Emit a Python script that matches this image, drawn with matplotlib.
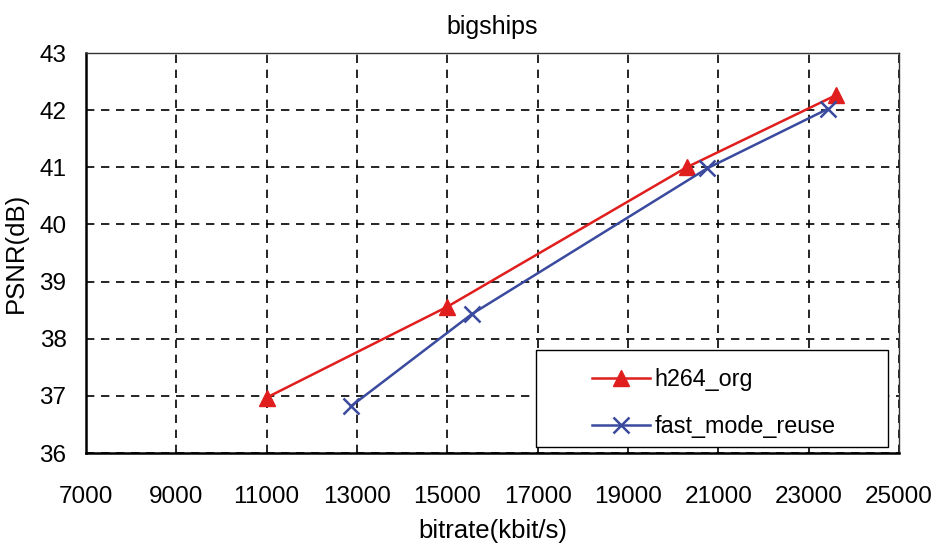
import matplotlib
matplotlib.use("Agg")
import matplotlib.pyplot as plt
from matplotlib.patches import Rectangle

# Data
h264_rate = [11000, 15000, 20300, 23600]
h264_psnr = [36.97, 38.56, 41.0, 42.26]
fast_rate = [12870, 15540, 20750, 23420]
fast_psnr = [36.82, 38.43, 40.98, 42.02]

x_ticks = list(range(7000, 25001, 2000))
y_ticks = list(range(36, 44))

plt.rcParams["font.family"] = ["Liberation Sans", "DejaVu Sans"]

fig = plt.figure(figsize=(9.39, 5.48), dpi=100)
ax = fig.add_axes([86 / 939, 1 - 453 / 548, (899 - 86) / 939, (453 - 53) / 548])

ax.plot(h264_rate, h264_psnr, color="#e01e1e", lw=1.8, marker="^",
        markersize=12, label="h264_org", zorder=3)
ax.plot(fast_rate, fast_psnr, color="#3a4a9e", lw=1.8, marker="x",
        markersize=12, markeredgewidth=1.8, label="fast_mode_reuse", zorder=3)

ax.set_xlim(7000, 25000)
ax.set_ylim(36, 43)
ax.set_xticks(x_ticks)
ax.set_yticks(y_ticks)
ax.grid(True, color="black", linestyle=(0, (5, 4)), linewidth=1.2)
ax.tick_params(length=0, labelsize=17.5)
ax.tick_params(axis="x", pad=24)
ax.tick_params(axis="y", pad=14)

for side in ["left", "bottom"]:
    ax.spines[side].set_linewidth(1.8)
    ax.spines[side].set_color("black")
for side in ["top", "right"]:
    ax.spines[side].set_linewidth(1.0)
    ax.spines[side].set_color("#333333")

ax.set_xlabel("bitrate(kbit/s)", fontsize=18.5, labelpad=8)
ax.set_ylabel("PSNR(dB)", fontsize=18.5, labelpad=8)
ax.set_title("bigships", fontsize=18, pad=14)

# legend box drawn separately so the entries can sit to the right inside it
box = Rectangle((0.553, 0.015), 0.433, 0.2425, transform=ax.transAxes,
                facecolor="white", edgecolor="black", linewidth=1.0, zorder=4)
ax.add_patch(box)
leg = ax.legend(loc="upper left", bbox_to_anchor=(0.622, 0.213),
                fontsize=16.8, frameon=False, borderpad=0, borderaxespad=0,
                labelspacing=1.05, handlelength=2.5, handletextpad=0.2)
leg.set_zorder(5)

fig.savefig("out.png", dpi=100)
